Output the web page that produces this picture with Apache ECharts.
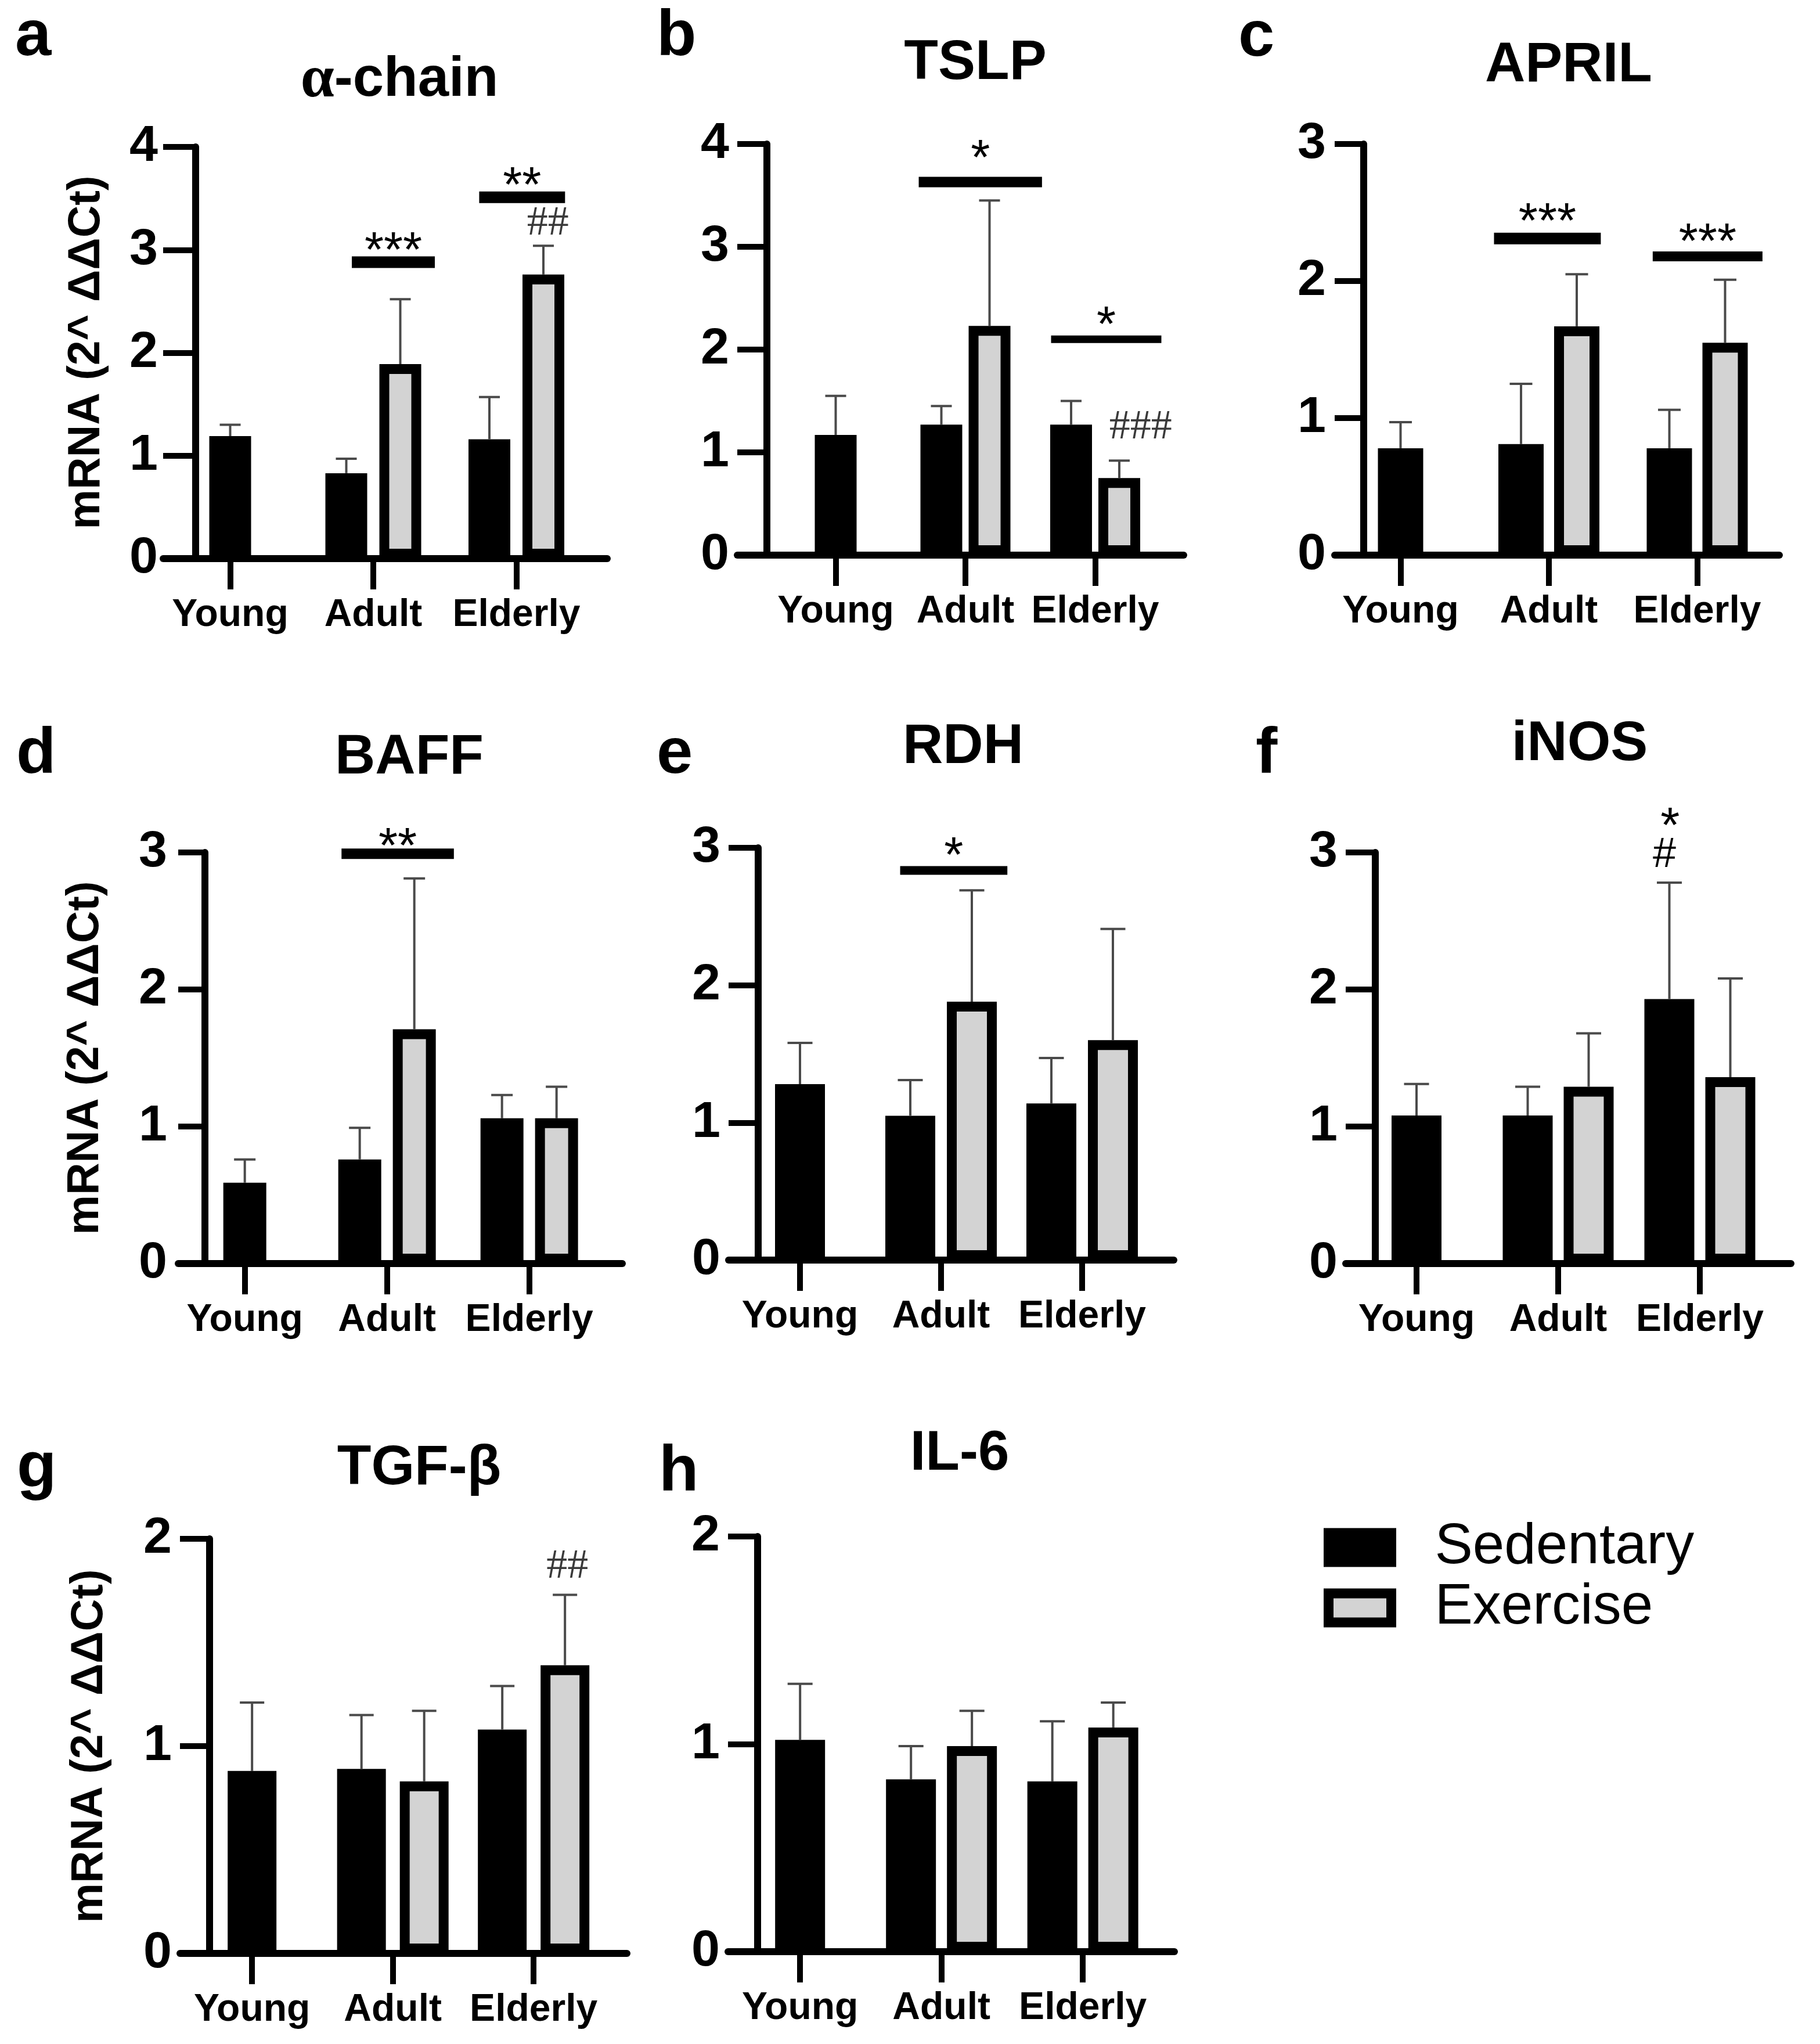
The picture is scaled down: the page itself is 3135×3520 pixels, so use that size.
<!DOCTYPE html>
<html>
<head>
<meta charset="utf-8">
<script src="https://cdn.jsdelivr.net/npm/echarts@6/dist/echarts.min.js"></script>
<style>
  html, body { margin: 0; padding: 0; background: #fff; }
  #chart { width: 3135px; height: 3520px; }
</style>
</head>
<body>
<div id="chart"></div>
<script>
var ages = ['Young', 'Adult', 'Elderly'];
var genes = ['α-chain', 'TSLP', 'APRIL', 'BAFF', 'RDH', 'iNOS', 'TGF-β', 'IL-6'];
var letters = ['a', 'b', 'c', 'd', 'e', 'f', 'g', 'h'];
var yMax = [4, 4, 3, 3, 3, 3, 2, 2];

// mean mRNA per gene, columns Young / Adult / Elderly
var sedentary = [
    [1.19, 0.83, 1.16],
    [1.17, 1.27, 1.27],
    [0.78, 0.81, 0.78],
    [0.59, 0.76, 1.06],
    [1.28, 1.05, 1.14],
    [1.08, 1.08, 1.93],
    [0.88, 0.89, 1.08],
    [1.02, 0.83, 0.82]
];
var sedentaryErr = [
    [0.11, 0.14, 0.41],
    [0.38, 0.18, 0.23],
    [0.19, 0.44, 0.28],
    [0.17, 0.23, 0.17],
    [0.30, 0.26, 0.33],
    [0.23, 0.21, 0.85],
    [0.33, 0.26, 0.21],
    [0.27, 0.16, 0.29]
];
// no exercise group for young animals
var exercise = [
    [null, 1.89, 2.76],
    [null, 2.23, 0.75],
    [null, 1.67, 1.55],
    [null, 1.71, 1.06],
    [null, 1.88, 1.60],
    [null, 1.29, 1.36],
    [null, 0.83, 1.39],
    [null, 0.99, 1.08]
];
var exerciseErr = [
    [null, 0.63, 0.28],
    [null, 1.22, 0.17],
    [null, 0.38, 0.46],
    [null, 1.10, 0.23],
    [null, 0.81, 0.81],
    [null, 0.39, 0.72],
    [null, 0.34, 0.34],
    [null, 0.17, 0.12]
];

// significance bars: panel, from, to (group axis units), bar level, star level, label
var sigLines = [
    [0, 0.85, 1.43, 2.88, 3.08, '***'],
    [0, 1.74, 2.34, 3.51, 3.71, '**'],
    [1, 0.64, 1.59, 3.63, 3.95, '*'],
    [1, 1.66, 2.51, 2.10, 2.33, '*'],
    [2, 0.63, 1.35, 2.31, 2.50, '***'],
    [2, 1.70, 2.44, 2.18, 2.35, '***'],
    [3, 0.68, 1.47, 2.99, 3.11, '**'],
    [4, 0.71, 1.47, 2.835, 3.01, '*']
];
// single marks: panel, x, y, label
var sigMarks = [
    [0, 2.22, 3.255, '##'],
    [1, 2.35, 1.24, '###'],
    [5, 1.75, 2.98, '#'],
    [5, 1.79, 3.26, '*'],
    [6, 2.24, 1.865, '##']
];

// page layout in pixels
var sigLineWidth = [20, 20, 18, 13, 20, 17, 18, 15];
var layout = [
    {L: 281,  R: 1046, yAx: 337,  top: 253,  y0: 962,  ticks: [401, 634, 894],   barW: 72, gap: 21},
    {L: 1270, R: 2039, yAx: 1321, top: 248,  y0: 956,  ticks: [1444, 1654, 1891], barW: 72, gap: 11},
    {L: 2299, R: 3065, yAx: 2349, top: 248,  y0: 956,  ticks: [2418, 2657, 2929], barW: 78, gap: 18},
    {L: 307,  R: 1072, yAx: 353,  top: 1468, y0: 2176, ticks: [427, 656, 917],   barW: 74, gap: 20},
    {L: 1255, R: 2022, yAx: 1306, top: 1460, y0: 2170, ticks: [1384, 1609, 1870], barW: 86, gap: 20},
    {L: 2318, R: 3085, yAx: 2369, top: 1468, y0: 2176, ticks: [2446, 2672, 2934], barW: 86, gap: 19},
    {L: 310,  R: 1080, yAx: 361,  top: 2650, y0: 3364, ticks: [440, 665, 925],   barW: 84, gap: 24},
    {L: 1254, R: 2023, yAx: 1305, top: 2646, y0: 3361, ticks: [1384, 1610, 1871], barW: 86, gap: 19}
];
var titlePos = [[688, 139], [1680, 110], [2702, 114], [705, 1306], [1659, 1288], [2721, 1283], [722, 2530], [1653, 2505]];
var letterPos = [[26, 64], [1131, 64], [2133, 65], [28, 1300], [1131, 1300], [2163, 1300], [29, 2530], [1135, 2536]];
var yNamePos = {0: [150, 607], 3: [148, 1822], 6: [155, 3007]};

var FONT = 'Liberation Sans, Arial, sans-serif';
var SERIF = 'Liberation Serif, Times New Roman, serif';
var BORDER = 17;
var GREY = '#d3d3d3';

var grids = [], xAxes = [], yAxes = [], series = [], graphics = [];

layout.forEach(function (p, k) {
    // fit a linear group axis through the three tick positions
    var u = (p.ticks[2] - p.ticks[0]) / 2;
    var mean = (p.ticks[0] + p.ticks[1] + p.ticks[2]) / 3;
    var c0 = mean - u;
    var xMin = (p.L - c0) / u;
    var xMax = (p.R - c0) / u;

    grids.push({
        left: p.L, top: p.top, width: p.R - p.L, height: p.y0 - p.top,
        containLabel: false, outerBoundsMode: 'none'
    });

    xAxes.push({
        type: 'value', gridIndex: k, min: xMin, max: xMax,
        axisLine: {onZero: false, lineStyle: {color: '#000', width: 12}},
        axisTick: {show: true, customValues: [0, 1, 2], length: 53, lineStyle: {color: '#000', width: 10}},
        axisLabel: {
            customValues: [0, 1, 2], hideOverlap: false, margin: 65,
            formatter: function (v) { return ages[Math.round(v)]; },
            color: '#000', fontFamily: FONT, fontWeight: 'bold', fontSize: 66
        },
        splitLine: {show: false}
    });
    // second axis for the lone young bar so it sits centred on its tick
    xAxes.push({type: 'value', gridIndex: k, min: xMin, max: xMax, show: false});

    yAxes.push({
        type: 'value', gridIndex: k, min: 0, max: yMax[k], interval: 1,
        offset: -(p.yAx - p.L),
        axisLine: {show: true, onZero: false, lineStyle: {color: '#000', width: 12}},
        axisTick: {show: true, length: p.yAx - p.L, lineStyle: {color: '#000', width: 10}},
        axisLabel: {margin: 65, color: '#000', fontFamily: FONT, fontWeight: 'bold', fontSize: 88},
        splitLine: {show: false}
    });

    // the bar border is drawn inside the bar width
    var barGap = (p.gap / p.barW * 100).toFixed(1) + '%';

    series.push({
        name: 'Sedentary', type: 'bar', xAxisIndex: 2 * k + 1, yAxisIndex: k,
        barWidth: p.barW, data: [[0, sedentary[k][0]]],
        itemStyle: {color: '#000', borderColor: '#000', borderWidth: BORDER}
    });
    series.push({
        name: 'Sedentary', type: 'bar', xAxisIndex: 2 * k, yAxisIndex: k,
        barWidth: p.barW, barGap: barGap,
        data: [[1, sedentary[k][1]], [2, sedentary[k][2]]],
        itemStyle: {color: '#000', borderColor: '#000', borderWidth: BORDER}
    });
    series.push({
        name: 'Exercise', type: 'bar', xAxisIndex: 2 * k, yAxisIndex: k,
        barWidth: p.barW, barGap: barGap,
        data: [[1, exercise[k][1]], [2, exercise[k][2]]],
        itemStyle: {color: GREY, borderColor: '#000', borderWidth: BORDER}
    });

    // error bars (upper only)
    var errData = [[0, sedentary[k][0], sedentaryErr[k][0], 0]];
    for (var i = 1; i < 3; i++) {
        errData.push([i, sedentary[k][i], sedentaryErr[k][i], -1]);
        errData.push([i, exercise[k][i], exerciseErr[k][i], 1]);
    }
    series.push({
        type: 'custom', xAxisIndex: 2 * k, yAxisIndex: k, z: 3,
        data: errData,
        renderItem: function (params, api) {
            var x = api.value(0), m = api.value(1), e = api.value(2), side = api.value(3);
            var base = api.coord([x, m]);
            var tip = api.coord([x, m + e]);
            var cx = base[0] + side * (p.barW + p.gap) / 2;
            var half = p.barW / 4;
            var ls = {stroke: '#4a4a4a', lineWidth: 4};
            return {
                type: 'group',
                children: [
                    {type: 'line', shape: {x1: cx, y1: base[1], x2: cx, y2: tip[1]}, style: ls},
                    {type: 'line', shape: {x1: cx - half, y1: tip[1], x2: cx + half, y2: tip[1]}, style: ls}
                ]
            };
        }
    });

    // significance bars and marks
    var lines = [], lineW = [];
    sigLines.forEach(function (s, j) {
        if (s[0] === k) { lines.push(s); lineW.push(sigLineWidth[j]); }
    });
    if (lines.length) {
        series.push({
            type: 'custom', xAxisIndex: 2 * k, yAxisIndex: k, z: 4,
            data: lines.map(function (s) { return [s[1], s[3]]; }),
            renderItem: function (params, api) {
                var s = lines[params.dataIndex], lw = lineW[params.dataIndex];
                var a = api.coord([s[1], s[3]]), b = api.coord([s[2], s[3]]);
                var t = api.coord([(s[1] + s[2]) / 2, s[4]]);
                return {
                    type: 'group',
                    children: [
                        {type: 'rect', shape: {x: a[0], y: a[1] - lw / 2, width: b[0] - a[0], height: lw}, style: {fill: '#000'}},
                        {type: 'text', x: t[0], y: t[1] + 0.23 * 85, style: {
                            text: s[5], fill: '#000', fontFamily: FONT, fontSize: 85,
                            align: 'center', verticalAlign: 'middle'
                        }}
                    ]
                };
            }
        });
    }
    var marks = sigMarks.filter(function (s) { return s[0] === k; });
    if (marks.length) {
        series.push({
            type: 'custom', xAxisIndex: 2 * k, yAxisIndex: k, z: 4,
            data: marks.map(function (s) { return [s[1], s[2]]; }),
            renderItem: function (params, api) {
                var s = marks[params.dataIndex];
                var c = api.coord([s[1], s[2]]);
                var st = {text: s[3], align: 'center', verticalAlign: 'middle'};
                if (s[3] === '*') {
                    st.fill = '#000'; st.fontFamily = FONT; st.fontSize = 85; c[1] += 0.23 * 85;
                } else if (s[3] === '#') {
                    st.fill = '#000'; st.fontFamily = FONT; st.fontSize = 72;
                } else {
                    st.fill = '#3a3a3a'; st.fontFamily = SERIF; st.fontSize = 72;
                }
                return {type: 'text', x: c[0], y: c[1], style: st};
            }
        });
    }

    // title, panel letter
    var title = genes[k];
    var titleStyle = {
        text: title, fill: '#000', fontFamily: FONT, fontWeight: 'bold', fontSize: 96,
        align: 'center', verticalAlign: 'middle'
    };
    if (title.charAt(0) === 'α') {
        titleStyle.text = '{g|α}' + title.slice(1);
        titleStyle.rich = {g: {fontFamily: SERIF, fontWeight: 'bold', fontSize: 104}};
    }
    graphics.push({type: 'text', x: titlePos[k][0], y: titlePos[k][1], style: titleStyle});
    graphics.push({type: 'text', x: letterPos[k][0], y: letterPos[k][1], style: {
        text: letters[k], fill: '#000', fontFamily: FONT, fontWeight: 'bold', fontSize: 112,
        align: 'left', verticalAlign: 'middle'
    }});
    if (yNamePos[k]) {
        graphics.push({type: 'text', x: yNamePos[k][0], y: yNamePos[k][1], rotation: Math.PI / 2, style: {
            text: 'mRNA (2^ ΔΔCt)', fill: '#000', fontFamily: FONT, fontWeight: 'bold', fontSize: 77,
            align: 'center', verticalAlign: 'middle'
        }});
    }
});

var chart = echarts.init(document.getElementById('chart'), null, {renderer: 'canvas'});

option = {
    backgroundColor: '#fff',
    animation: false,
    grid: grids,
    xAxis: xAxes,
    yAxis: yAxes,
    legend: {
        data: ['Sedentary', 'Exercise'],
        orient: 'vertical', left: 2280, top: 2613, padding: 0,
        icon: 'rect', itemWidth: 108, itemHeight: 50, itemGap: 0,
        itemStyle: {borderColor: '#000', borderWidth: BORDER},
        textStyle: {color: '#000', fontFamily: FONT, fontSize: 98, lineHeight: 104, padding: [0, 0, 0, 70]},
        selectedMode: false
    },
    graphic: graphics,
    series: series
};

chart.setOption(option);
</script>
</body>
</html>
